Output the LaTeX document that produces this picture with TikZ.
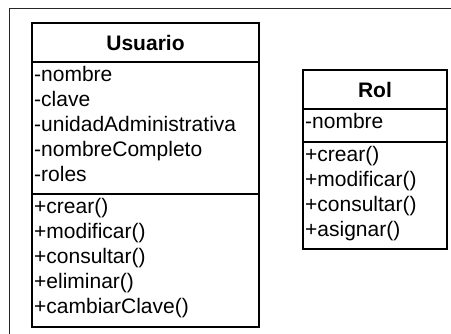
\documentclass[tikz,border=0pt]{standalone}
\usepackage{fontspec}
\setmainfont{Liberation Sans}
\begin{document}
\begin{tikzpicture}[x=1pt,y=-1pt,
  umlbox/.style={draw=black,line width=1.4pt},
  memb/.style={anchor=base west,inner sep=0pt,font=\fontsize{21}{25}\selectfont},
  title/.style={anchor=center,inner sep=0pt,font=\fontsize{21}{25}\selectfont\bfseries},
  frame/.style={draw=black!85,line width=1pt}]
\useasboundingbox (0,0) rectangle (451,334);
\clip (0,0) rectangle (451,334);
% outer frame (cut by the picture edges)
\coordinate (fbl) at (9.5,340);
\coordinate (ftl) at (9.5,8.5);
\coordinate (ftr) at (460,8.5);
\draw[frame] (fbl) -- (ftl) -- (ftr);
% Usuario class
\coordinate (u1) at (32,23);
\coordinate (u2) at (259,327);
\draw[umlbox] (u1) rectangle (u2);
\draw[umlbox] (32,62) -- (259,62);
\draw[umlbox] (32,194) -- (259,194);
\node[title] (ut) at (145.5,42.5) {Usuario};
\node[memb] (ua1) at (34,82) {-nombre};
\node[memb] (ua2) at (34,107) {-clave};
\node[memb] (ua3) at (34,132) {-unidadAdministrativa};
\node[memb] (ua4) at (34,157) {-nombreCompleto};
\node[memb] (ua5) at (34,182) {-roles};
\node[memb] (um1) at (34,214) {+crear()};
\node[memb] (um2) at (34,239) {+modificar()};
\node[memb] (um3) at (34,264) {+consultar()};
\node[memb] (um4) at (34,289) {+eliminar()};
\node[memb] (um5) at (34,314) {+cambiarClave()};
% Rol class
\coordinate (r1) at (303,70);
\coordinate (r2) at (447,249);
\draw[umlbox] (r1) rectangle (r2);
\draw[umlbox] (303,109) -- (447,109);
\draw[umlbox] (303,142) -- (447,142);
\node[title] (rt) at (375,89.5) {Rol};
\node[memb] (ra1) at (305,129) {-nombre};
\node[memb] (rm1) at (305,162) {+crear()};
\node[memb] (rm2) at (305,187) {+modificar()};
\node[memb] (rm3) at (305,212) {+consultar()};
\node[memb] (rm4) at (305,237) {+asignar()};
\end{tikzpicture}
\end{document}
